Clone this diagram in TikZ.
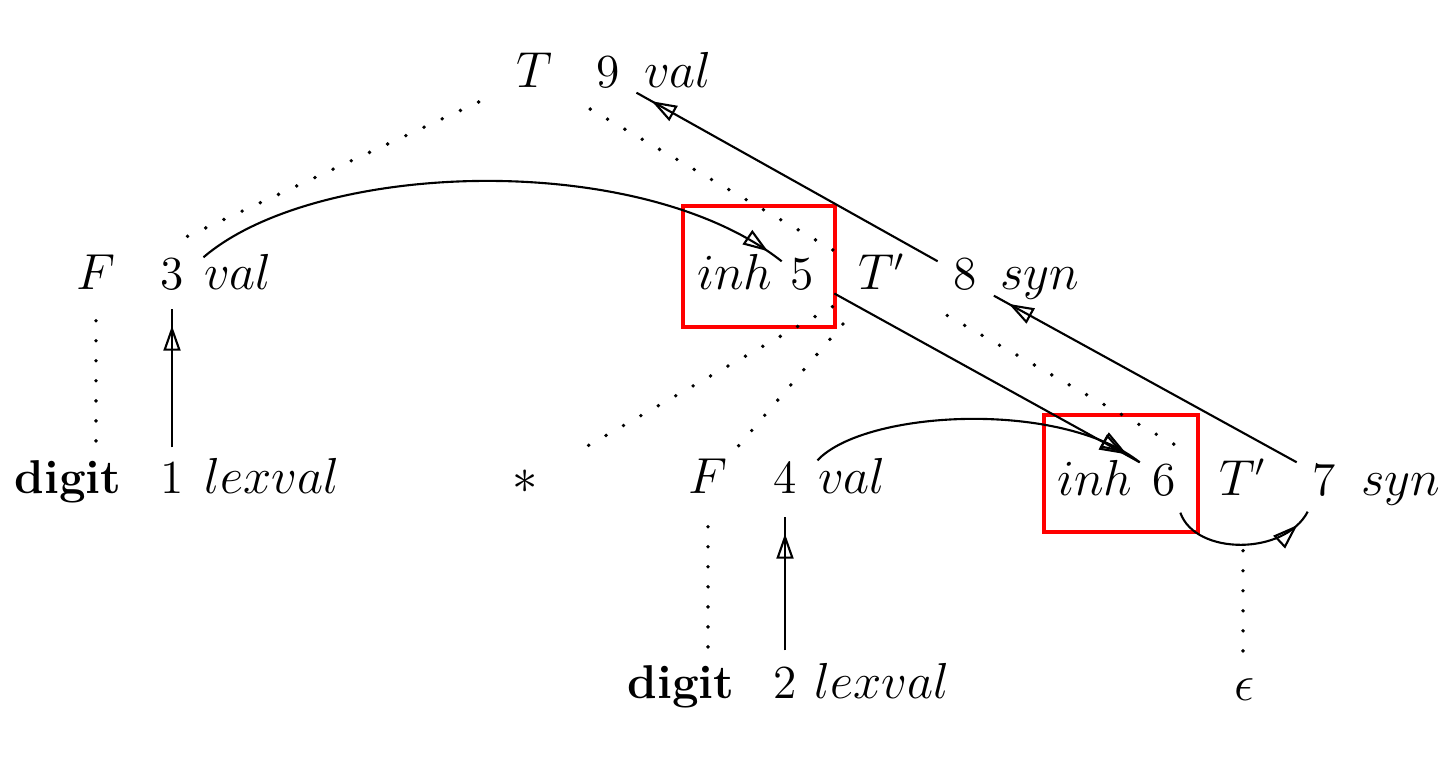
\documentclass[tikz,border=0pt]{standalone}
\usepackage{tikz}
\usetikzlibrary{arrows.meta,positioning,decorations.markings}

\begin{document}
\begin{tikzpicture}[
    every node/.style={font=\fontsize{13.5}{16}\selectfont},
    lbl/.style={
        anchor=base,
        inner sep=0pt,
        text height=0.32cm,
        text depth=0.09cm
    },
    attrbox/.style={
        rectangle,
        draw=red,
        line width=1.2pt,
        inner sep=0pt
    },
    treeline/.style={line width=1.1pt, line cap=round, dash pattern=on 0pt off 5.7pt},
    dep/.style={
        line width=0.6pt,
        postaction={decorate},
        decoration={markings,
            mark=at position -0.17cm with {\arrow{Triangle[open,length=2.5mm,width=1.7mm]}}}
    }
]
\useasboundingbox (0,0) rectangle (14.5,-7.63);

% red frames round the inherited attributes
\node[attrbox, minimum width=1.52cm, minimum height=1.21cm] (box5) at (7.59,-2.665) {};
\node[attrbox, minimum width=1.54cm, minimum height=1.17cm] (box6) at (11.21,-4.735) {};

% row 0
\node[lbl] (T0) at (5.34,-0.88) {$T$};
\node[lbl] (n9) at (6.08,-0.88) {9};
\node[lbl] (val9) at (6.78,-0.88) {$val$};

% row 1
\node[lbl] (F1) at (0.96,-2.90) {$F$};
\node[lbl] (n3) at (1.72,-2.90) {3};
\node[lbl] (val3) at (2.38,-2.90) {$val$};
\node[lbl] (inh5) at (7.35,-2.90) {$inh$};
\node[lbl] (n5) at (8.02,-2.90) {5};
\node[lbl] (Tp1) at (8.82,-2.90) {$T'$};
\node[lbl] (n8) at (9.65,-2.90) {8};
\node[lbl] (syn8) at (10.40,-2.90) {$syn$};

% row 2
\node[lbl] (digit1) at (0.68,-4.93) {\textbf{digit}};
\node[lbl] (n1) at (1.72,-4.93) {1};
\node[lbl] (lex1) at (2.72,-4.93) {$lexval$};
\node[lbl] (star) at (5.25,-4.93) {$*$};
\node[lbl] (F2) at (7.08,-4.93) {$F$};
\node[lbl] (n4) at (7.85,-4.93) {4};
\node[lbl] (val4) at (8.52,-4.93) {$val$};
\node[lbl] (inh6) at (10.95,-4.95) {$inh$};
\node[lbl] (n6) at (11.64,-4.95) {6};
\node[lbl] (Tp2) at (12.43,-4.95) {$T'$};
\node[lbl] (n7) at (13.24,-4.95) {7};
\node[lbl] (syn7) at (14.01,-4.95) {$syn$};

% row 3
\node[lbl] (digit2) at (6.81,-6.98) {\textbf{digit}};
\node[lbl] (n2) at (7.85,-6.98) {2};
\node[lbl] (lex2) at (8.82,-6.98) {$lexval$};
\node[lbl] (eps) at (12.44,-7.00) {$\epsilon$};

% parse tree
\draw[treeline, shorten <=0.61cm, shorten >=0.91cm] (T0.center) -- (F1.center);
\draw[treeline, shorten <=0.65cm, shorten >=0.54cm] (T0.center) -- (Tp1.center);
\draw[treeline, shorten <=0.57cm, shorten >=0.69cm] (Tp1.center) -- (star.center);
\draw[treeline, shorten <=0.60cm, shorten >=0.42cm] (Tp1.center) -- (F2.center);
\draw[treeline, shorten <=0.75cm, shorten >=0.64cm] (Tp1.center) -- (Tp2.center);
\draw[treeline, shorten <=0.21cm, shorten >=0.15cm] (F1.south) -- (F1.south |- digit1.north);
\draw[treeline, shorten <=0.24cm, shorten >=0.17cm] (F2.south) -- (F2.south |- digit2.north);
\draw[treeline, shorten <=0.46cm, shorten >=0.16cm] (Tp2.south) -- (Tp2.south |- eps.north);

% dependency graph
\draw[dep] ([yshift=0.13cm]n1.north) -- ([yshift=-0.09cm]n3.south);
\draw[dep] ([yshift=0.15cm]n2.north) -- ([yshift=-0.14cm]n4.south);
\draw[dep] (val3.north west) .. controls +(1.13,0.97) and +(-1.42,1.12) .. ([shift={(-0.08,-0.04)}]n5.north west);
\draw[dep] (val4.north west) .. controls +(0.47,0.50) and +(-0.80,0.63) .. ([xshift=-0.12cm]n6.north west);
\draw[dep] ([shift={(0.2,-0.15)}]n5.east) -- ([xshift=-0.12cm]n6.north west);
\draw[dep] ([shift={(0.04,-0.08)}]n6.south east) .. controls +(0.15,-0.43) and +(-0.23,-0.44) .. ([shift={(-0.04,-0.07)}]n7.south west);
\draw[dep] ([xshift=-0.15cm]n7.north west) -- ([shift={(-0.06,0.04)}]syn8.south west);
\draw[dep] ([shift={(-0.15,-0.04)}]n8.north west) -- ([shift={(-0.07,0.05)}]val9.south west);
\end{tikzpicture}
\end{document}
